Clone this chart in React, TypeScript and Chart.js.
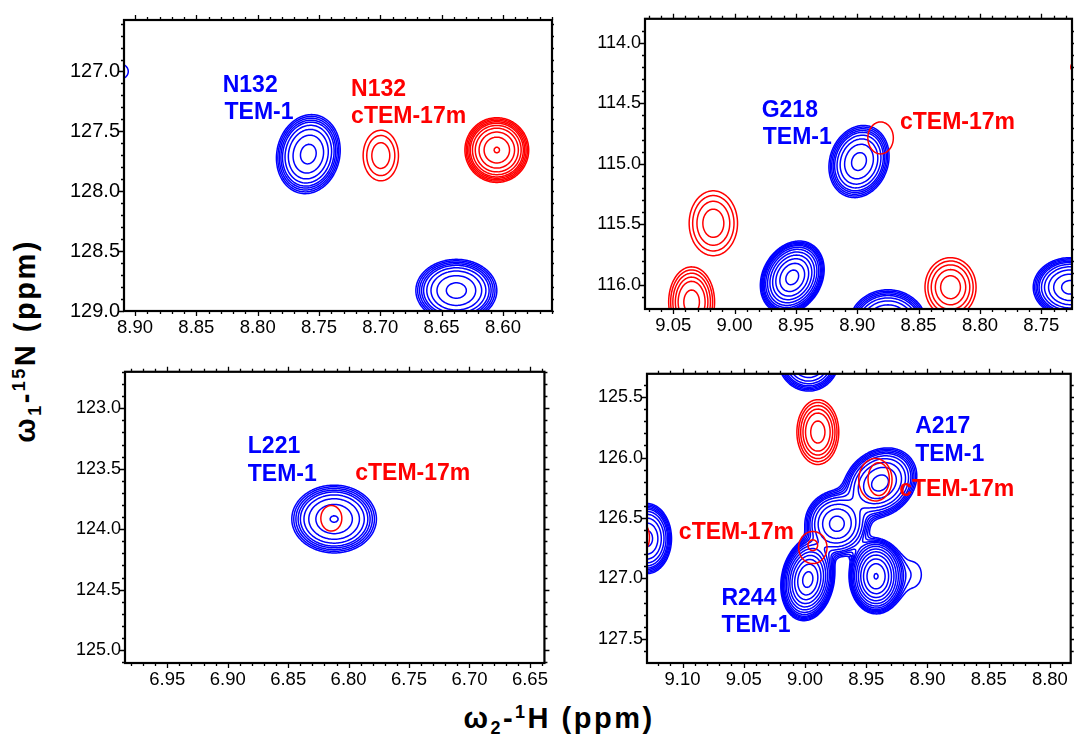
import React, { useEffect, useRef } from 'react';
import { Chart, registerables } from 'chart.js';

Chart.register(...registerables);

const FONT = '"Liberation Sans", Arial, sans-serif';
const BLUE = '#0000ff';
const RED = '#ff0000';

// contour levels (relative to the lowest level)
const CONTOUR_LEVELS = [1, 1.22, 1.49, 1.82, 2.2, 2.9, 4.0, 5.8, 8.5, 12.5, 18.5, 27, 40, 58, 85];

// x: 1H shift (ppm), y: 15N shift (ppm), rx/ry: half-widths of the outermost contour (ppm),
// n: number of contour levels, t: tilt, c: core factor, g: contour group
type Peak = { x: number; y: number; rx: number; ry: number; n: number; t?: number; c?: number; g?: number };
type Label = { text: string; x: number; y: number; c: string };

// axis ranges (ppm)
const TL_X = [8.56, 8.909];
const TL_Y = [126.57, 129.0];
const TR_X = [8.725, 9.073];
const TR_Y = [113.802, 116.199];
const BL_X = [6.638, 6.985];
const BL_Y = [122.699, 125.106];
const BR_X = [8.783, 9.129];
const BR_Y = [125.307, 127.699];

// peaks
const TL_BLUE: Peak[] = [
  { x: 8.7587, y: 127.69, rx: 0.026, ry: 0.33, n: 9, t: 0.1 },
  { x: 8.638, y: 128.829, rx: 0.033, ry: 0.26, n: 9 },
  { x: 8.9115, y: 127.0, rx: 0.006, ry: 0.061, n: 1 },
];
const TL_RED: Peak[] = [
  { x: 8.6996, y: 127.702, rx: 0.0144, ry: 0.211, n: 3 },
  { x: 8.605, y: 127.656, rx: 0.026, ry: 0.27, n: 10, c: 1.02 },
];
const TR_BLUE: Peak[] = [
  { x: 8.8986, y: 114.981, rx: 0.0245, ry: 0.298, n: 9, t: 0.15 },
  { x: 8.953, y: 115.938, rx: 0.026, ry: 0.3, n: 12, t: 0.22 },
  { x: 8.875, y: 116.34, rx: 0.032, ry: 0.3, n: 10 },
  { x: 8.7266, y: 116.02, rx: 0.03, ry: 0.245, n: 10 },
];
const TR_RED: Peak[] = [
  { x: 8.881, y: 114.786, rx: 0.0104, ry: 0.132, n: 1, g: 3 },
  { x: 9.0173, y: 115.491, rx: 0.0197, ry: 0.268, n: 4, g: 1 },
  { x: 9.035, y: 116.141, rx: 0.0187, ry: 0.29, n: 6, g: 2 },
  { x: 8.824, y: 116.019, rx: 0.0208, ry: 0.244, n: 5 },
  { x: 8.718, y: 114.2, rx: 0.008, ry: 0.06, n: 1 },
];
const BL_BLUE: Peak[] = [
  { x: 6.812, y: 123.916, rx: 0.035, ry: 0.28, n: 9, c: 1.02 },
];
const BL_RED: Peak[] = [
  { x: 6.8143, y: 123.91, rx: 0.0087, ry: 0.106, n: 1 },
];
const BR_BLUE: Peak[] = [
  { x: 8.9387, y: 126.21, rx: 0.03, ry: 0.29, n: 10, t: 0.2 },
  { x: 8.974, y: 126.548, rx: 0.026, ry: 0.27, n: 10 },
  { x: 8.9977, y: 127.009, rx: 0.022, ry: 0.34, n: 13, t: 0.15 },
  { x: 8.942, y: 126.982, rx: 0.022, ry: 0.31, n: 13, c: 1.02 },
  { x: 8.912, y: 126.968, rx: 0.007, ry: 0.1, n: 1 },
  { x: 8.962, y: 126.83, rx: 0.002, ry: 0.02, n: 1, g: 1 },
  { x: 9.129, y: 126.67, rx: 0.02, ry: 0.29, n: 10, g: 2 },
  { x: 8.997, y: 125.18, rx: 0.025, ry: 0.27, n: 10, g: 3 },
];
const BR_RED: Peak[] = [
  { x: 8.9895, y: 125.789, rx: 0.0171, ry: 0.268, n: 6 },
  { x: 8.9425, y: 126.183, rx: 0.0136, ry: 0.176, n: 1, g: 1 },
  { x: 8.9398, y: 126.178, rx: 0.0087, ry: 0.136, n: 1, g: 2 },
  { x: 8.9936, y: 126.744, rx: 0.0116, ry: 0.133, n: 1, g: 3 },
  { x: 8.9936, y: 126.725, rx: 0.004, ry: 0.045, n: 1, g: 4 },
  { x: 9.133, y: 126.66, rx: 0.006, ry: 0.12, n: 2, g: 5 },
];

// annotations (anchored at left / baseline, in ppm)
const TL_LABELS: Label[] = [
  { text: 'N132', x: 8.8285, y: 127.17, c: BLUE },
  { text: 'TEM-1', x: 8.827, y: 127.397, c: BLUE },
  { text: 'N132', x: 8.7238, y: 127.206, c: RED },
  { text: 'cTEM-17m', x: 8.7238, y: 127.429, c: RED },
];
const TR_LABELS: Label[] = [
  { text: 'G218', x: 8.9779, y: 114.609, c: BLUE },
  { text: 'TEM-1', x: 8.977, y: 114.835, c: BLUE },
  { text: 'cTEM-17m', x: 8.8652, y: 114.713, c: RED },
];
const BL_LABELS: Label[] = [
  { text: 'L221', x: 6.8834, y: 123.372, c: BLUE },
  { text: 'TEM-1', x: 6.8834, y: 123.598, c: BLUE },
  { text: 'cTEM-17m', x: 6.7945, y: 123.59, c: RED },
];
const BR_LABELS: Label[] = [
  { text: 'A217', x: 8.91, y: 125.797, c: BLUE },
  { text: 'TEM-1', x: 8.91, y: 126.025, c: BLUE },
  { text: 'cTEM-17m', x: 8.923, y: 126.318, c: RED },
  { text: 'cTEM-17m', x: 9.103, y: 126.67, c: RED },
  { text: 'R244', x: 9.0682, y: 127.218, c: BLUE },
  { text: 'TEM-1', x: 9.0682, y: 127.443, c: BLUE },
];

type PanelCfg = {
  box: number[]; // left, top, right, bottom of plot frame (px)
  xr: number[];
  yr: number[];
  yFont: number;
  blue: Peak[];
  red: Peak[];
  labels: Label[];
};

const PANELS: PanelCfg[] = [
  { box: [124, 14, 552, 311], xr: TL_X, yr: TL_Y, yFont: 20, blue: TL_BLUE, red: TL_RED, labels: TL_LABELS },
  { box: [645, 14, 1072, 309], xr: TR_X, yr: TR_Y, yFont: 18, blue: TR_BLUE, red: TR_RED, labels: TR_LABELS },
  { box: [125, 367, 552, 663], xr: BL_X, yr: BL_Y, yFont: 18, blue: BL_BLUE, red: BL_RED, labels: BL_LABELS },
  { box: [647, 369, 1072, 663], xr: BR_X, yr: BR_Y, yFont: 18, blue: BR_BLUE, red: BR_RED, labels: BR_LABELS },
];

const Y_AXIS_W = 60;
const X_AXIS_H = 32;
const PAD_TOP = 10;
const PAD_RIGHT = 2;

function drawLayer(chart: any, peaks: Peak[], color: string) {
  const { ctx, chartArea: a } = chart;
  const xs = chart.scales.x;
  const ys = chart.scales.y;
  const step = 1.5;
  const x0 = a.left - 3;
  const y0 = a.top - 3;
  const nx = Math.ceil((a.right - a.left + 6) / step) + 1;
  const ny = Math.ceil((a.bottom - a.top + 6) / step) + 1;
  const xv = new Float64Array(nx);
  const yv = new Float64Array(ny);
  for (let i = 0; i < nx; i++) xv[i] = xs.getValueForPixel(x0 + i * step);
  for (let j = 0; j < ny; j++) yv[j] = ys.getValueForPixel(y0 + j * step);

  const groups = new Map<number, Peak[]>();
  peaks.forEach((p) => {
    const g = p.g || 0;
    if (!groups.has(g)) groups.set(g, []);
    groups.get(g)!.push(p);
  });

  ctx.save();
  ctx.beginPath();
  ctx.rect(a.left, a.top, a.right - a.left, a.bottom - a.top);
  ctx.clip();
  ctx.strokeStyle = color;
  ctx.lineWidth = 1.5;
  ctx.lineCap = 'round';

  groups.forEach((gp) => {
    const field = new Float64Array(nx * ny);
    let maxV = 0;
    gp.forEach((p) => {
      const h = CONTOUR_LEVELS[p.n - 1] * (p.c || 1.15);
      const s = Math.sqrt(2 * Math.log(h));
      const sx = p.rx / s;
      const sy = p.ry / s;
      const t = p.t || 0;
      const den = 1 - t * t;
      for (let j = 0; j < ny; j++) {
        const v = (yv[j] - p.y) / sy;
        if (Math.abs(v) > 7) continue;
        for (let i = 0; i < nx; i++) {
          const u = (xv[i] - p.x) / sx;
          if (Math.abs(u) > 7) continue;
          const q = (u * u - 2 * t * u * v + v * v) / den;
          field[j * nx + i] += h * Math.exp(-0.5 * q);
        }
      }
    });
    for (let k = 0; k < field.length; k++) if (field[k] > maxV) maxV = field[k];
    for (const L of CONTOUR_LEVELS) {
      if (L > maxV) break;
      ctx.beginPath();
      for (let j = 0; j < ny - 1; j++) {
        for (let i = 0; i < nx - 1; i++) {
          const va = field[j * nx + i];
          const vb = field[j * nx + i + 1];
          const vc = field[(j + 1) * nx + i + 1];
          const vd = field[(j + 1) * nx + i];
          const ia = va >= L, ib = vb >= L, ic = vc >= L, id = vd >= L;
          if (ia === ib && ib === ic && ic === id) continue;
          const px = x0 + i * step;
          const py = y0 + j * step;
          const pts: number[] = [];
          if (ia !== ib) pts.push(px + (step * (L - va)) / (vb - va), py);
          if (ib !== ic) pts.push(px + step, py + (step * (L - vb)) / (vc - vb));
          if (ic !== id) pts.push(px + (step * (L - vd)) / (vc - vd), py + step);
          if (id !== ia) pts.push(px, py + (step * (L - va)) / (vd - va));
          for (let m = 0; m + 3 < pts.length; m += 4) {
            ctx.moveTo(pts[m], pts[m + 1]);
            ctx.lineTo(pts[m + 2], pts[m + 3]);
          }
        }
      }
      ctx.stroke();
    }
  });
  ctx.restore();
}

function Panel({ cfg }: { cfg: PanelCfg }) {
  const ref = useRef<HTMLCanvasElement | null>(null);
  const [l, t, r, b] = cfg.box;
  const width = r - l + Y_AXIS_W + PAD_RIGHT;
  const height = b - t + PAD_TOP + X_AXIS_H;

  useEffect(() => {
    if (!ref.current) return;
    const plugin = {
      id: 'nmr',
      beforeDatasetsDraw(chart: any) {
        drawLayer(chart, cfg.blue, BLUE);
        drawLayer(chart, cfg.red, RED);
      },
      afterDatasetsDraw(chart: any) {
        const { ctx } = chart;
        const xs = chart.scales.x;
        const ys = chart.scales.y;
        ctx.save();
        ctx.font = `bold 23px ${FONT}`;
        ctx.textAlign = 'left';
        ctx.textBaseline = 'alphabetic';
        cfg.labels.forEach((lb) => {
          ctx.fillStyle = lb.c;
          ctx.fillText(lb.text, xs.getPixelForValue(lb.x), ys.getPixelForValue(lb.y));
        });
        ctx.restore();
      },
      afterDraw(chart: any) {
        const { ctx, chartArea: a } = chart;
        const xs = chart.scales.x;
        const ys = chart.scales.y;
        ctx.save();
        ctx.strokeStyle = '#000';
        ctx.lineWidth = 1.3;
        ctx.beginPath();
        for (let k = Math.ceil(xs.min * 100 - 1e-6); k <= Math.floor(xs.max * 100 + 1e-6); k++) {
          const px = Math.round(xs.getPixelForValue(k / 100)) + 0.5;
          const len = k % 5 === 0 ? 5 : 3;
          ctx.moveTo(px, a.bottom);
          ctx.lineTo(px, a.bottom + len);
          ctx.moveTo(px, a.top);
          ctx.lineTo(px, a.top - len);
        }
        for (let k = Math.ceil(ys.min * 10 - 1e-6); k <= Math.floor(ys.max * 10 + 1e-6); k++) {
          const py = Math.round(ys.getPixelForValue(k / 10)) + 0.5;
          const len = k % 5 === 0 ? 5 : 3;
          ctx.moveTo(a.left, py);
          ctx.lineTo(a.left - len, py);
          ctx.moveTo(a.right, py);
          ctx.lineTo(a.right + len, py);
        }
        ctx.stroke();
        ctx.lineWidth = 2.2;
        ctx.strokeRect(a.left, a.top, a.right - a.left, a.bottom - a.top);
        ctx.restore();
      },
    };

    const chart = new Chart(ref.current, {
      type: 'scatter',
      data: { datasets: [] },
      options: {
        responsive: false,
        animation: false,
        events: [],
        layout: { padding: { top: PAD_TOP, right: PAD_RIGHT, left: 0, bottom: 0 } },
        plugins: { legend: { display: false }, tooltip: { enabled: false }, title: { display: false } },
        scales: {
          x: {
            type: 'linear',
            position: 'bottom',
            reverse: true,
            min: cfg.xr[0],
            max: cfg.xr[1],
            grid: { display: false, drawTicks: false },
            border: { display: false },
            ticks: {
              stepSize: 0.05,
              includeBounds: false,
              autoSkip: false,
              maxRotation: 0,
              padding: 6,
              color: '#000',
              font: { family: FONT, size: 18.5 },
              callback: (v: any) => Number(v).toFixed(2),
            },
            afterFit: (s: any) => {
              s.height = X_AXIS_H;
            },
          },
          y: {
            type: 'linear',
            position: 'left',
            reverse: true,
            min: cfg.yr[0],
            max: cfg.yr[1],
            grid: { display: false, drawTicks: false },
            border: { display: false },
            ticks: {
              stepSize: 0.5,
              includeBounds: false,
              autoSkip: false,
              padding: 4,
              color: '#000',
              font: { family: FONT, size: cfg.yFont },
              callback: (v: any) => Number(v).toFixed(1),
            },
            afterFit: (s: any) => {
              s.width = Y_AXIS_W;
            },
          },
        },
      } as any,
      plugins: [plugin],
    });
    return () => chart.destroy();
  }, [cfg]);

  return (
    <canvas
      ref={ref}
      width={width}
      height={height}
      style={{ position: 'absolute', left: l - Y_AXIS_W, top: t - PAD_TOP, width, height }}
    />
  );
}

export default function App() {
  const sub: React.CSSProperties = { fontSize: '0.62em', position: 'relative', top: '0.35em' };
  const sup: React.CSSProperties = { fontSize: '0.62em', position: 'relative', top: '-0.55em' };
  return (
    <div
      style={{
        position: 'absolute',
        left: 0,
        top: 0,
        width: 1074,
        height: 740,
        background: '#fff',
        overflow: 'hidden',
        fontFamily: FONT,
      }}
    >
      {PANELS.map((p, i) => (
        <Panel key={i} cfg={p} />
      ))}
      <div
        style={{
          position: 'absolute',
          left: 559,
          top: 718,
          transform: 'translate(-50%, -50%)',
          whiteSpace: 'nowrap',
          fontWeight: 'bold',
          fontSize: 29,
          letterSpacing: 2.5,
          lineHeight: 1,
        }}
      >
        ω<span style={sub}>2</span>-<span style={sup}>1</span>H (ppm)
      </div>
      <div
        style={{
          position: 'absolute',
          left: 25,
          top: 341,
          transform: 'translate(-50%, -50%) rotate(-90deg)',
          whiteSpace: 'nowrap',
          fontWeight: 'bold',
          fontSize: 29,
          letterSpacing: 2.5,
          lineHeight: 1,
        }}
      >
        ω<span style={sub}>1</span>-<span style={sup}>15</span>N (ppm)
      </div>
    </div>
  );
}
